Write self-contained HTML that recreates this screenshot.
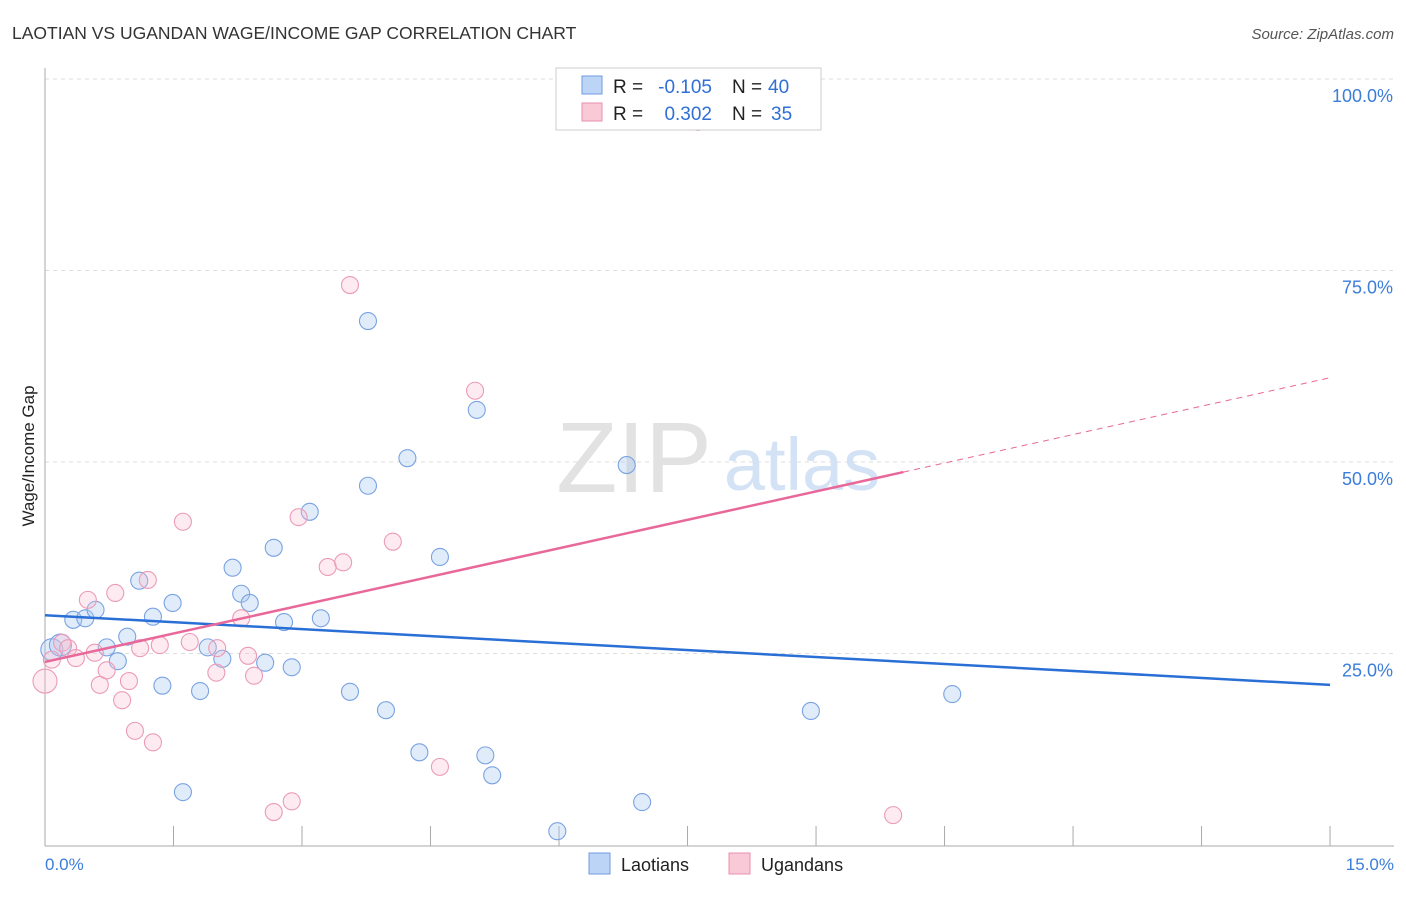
<!DOCTYPE html>
<html><head><meta charset="utf-8"><style>
body{margin:0;background:#fff;font-family:"Liberation Sans",sans-serif}
svg text{font-family:"Liberation Sans",sans-serif}
</style></head><body>
<svg width="1406" height="892">
<text x="12" y="39" font-size="17.5" fill="#333">LAOTIAN VS UGANDAN WAGE/INCOME GAP CORRELATION CHART</text>
<text x="1394" y="39" font-size="15" fill="#555" font-style="italic" text-anchor="end">Source: ZipAtlas.com</text>
<g id="grid"></g>
<g>
<text x="634" y="492" font-size="100" fill="#e2e2e2" font-family="Liberation Serif" text-anchor="middle">ZIP</text>
<text x="802" y="490" font-size="74" fill="#d3e2f5" text-anchor="middle">atlas</text>
</g>
<line x1="45" y1="68" x2="45" y2="846" stroke="#aaa"/>
<line x1="45" y1="846" x2="1394" y2="846" stroke="#aaa"/>
<text transform="translate(34,456) rotate(-90)" font-size="17" fill="#222" text-anchor="middle">Wage/Income Gap</text>
<text x="45" y="870" font-size="17" fill="#3b7dd8">0.0%</text>
<text x="1394" y="870" font-size="17" fill="#3b7dd8" text-anchor="end">15.0%</text>
<g id="points"></g>
<g id="trends"></g>
<g>
<rect x="556" y="68" width="265" height="62" fill="#fff" stroke="#ccc"/>
<rect x="582" y="76" width="20" height="18" fill="#bcd4f5" stroke="#6f9be0"/>
<rect x="582" y="103" width="20" height="18" fill="#f9c9d8" stroke="#e890ad"/>
<text x="613" y="93" font-size="19" fill="#222">R =</text>
<text x="712" y="93" font-size="19" fill="#2f6fd6" text-anchor="end">-0.105</text>
<text x="732" y="93" font-size="19" fill="#222">N =</text>
<text x="768" y="93" font-size="19" fill="#2f6fd6">40</text>
<text x="613" y="120" font-size="19" fill="#222">R =</text>
<text x="712" y="120" font-size="19" fill="#2f6fd6" text-anchor="end">0.302</text>
<text x="732" y="120" font-size="19" fill="#222">N =</text>
<text x="771" y="120" font-size="19" fill="#2f6fd6">35</text>
</g>
<g>
<rect x="589" y="853" width="21" height="21" fill="#bcd4f5" stroke="#6f9be0"/>
<text x="621" y="871" font-size="18" fill="#222">Laotians</text>
<rect x="729" y="853" width="21" height="21" fill="#f9c9d8" stroke="#e890ad"/>
<text x="761" y="871" font-size="18" fill="#222">Ugandans</text>
</g>
</svg>
<script>
const yTicks=[25,50,75,100];
const yTickLabels=["25.0%","50.0%","75.0%","100.0%"];
const xTicks=[0,1.5,3,4.5,6,7.5,9,10.5,12,13.5,15];
const laoX=[0.08,0.18,0.33,0.47,0.59,0.72,0.85,0.96,1.10,1.26,1.37,1.49,1.61,1.81,1.90,2.07,2.19,2.29,2.39,2.57,2.67,2.79,2.88,3.09,3.22,3.56,3.77,3.77,3.98,4.23,4.37,4.61,5.04,5.14,5.22,5.98,6.79,6.97,8.94,10.59];
const laoY=[25.5,26.1,29.4,29.6,30.7,25.8,24.0,27.2,34.5,29.8,20.8,31.6,6.9,20.1,25.8,24.3,36.2,32.8,31.6,23.8,38.8,29.1,23.2,43.5,29.6,20.0,46.9,68.4,17.6,50.5,12.1,37.6,56.8,11.7,9.1,1.8,49.6,5.6,17.5,19.7];
const ugaX=[0,0.08,0.20,0.27,0.36,0.50,0.58,0.64,0.72,0.82,0.90,0.98,1.05,1.11,1.20,1.26,1.34,1.61,1.69,2.00,2.01,2.29,2.37,2.44,2.67,2.88,2.96,3.30,3.48,3.56,4.06,4.61,5.02,7.62,9.90];
const ugaY=[21.4,24.2,26.4,25.7,24.4,32.0,25.1,20.9,22.8,32.9,18.9,21.4,14.9,25.7,34.6,13.4,26.1,42.2,26.5,22.5,25.7,29.6,24.7,22.1,4.3,5.7,42.8,36.3,36.9,73.1,39.6,10.2,59.3,94.4,3.9];
const laoTrend=[30.0,20.9];
const ugaTrend=[23.9,61.0];
const ugaSolidEnd=10.02;
const X=v=>45+v*85.67, Y=v=>845-v*7.66;
const NS="http://www.w3.org/2000/svg";
function mk(t,a,p){const e=document.createElementNS(NS,t);for(const k in a)e.setAttribute(k,a[k]);p.appendChild(e);return e;}
const grid=document.getElementById('grid');
yTicks.forEach((t,i)=>{
 const l=mk('line',{x1:45,x2:1394,y1:Y(t),y2:Y(t),stroke:'#ddd','stroke-dasharray':'4,4'},grid);
 
 
 const tx=mk('text',{x:1393,y:Y(t)+23,'font-size':18,fill:'#3b7dd8','text-anchor':'end'},grid);
 tx.textContent=yTickLabels[i];
 
 
});
xTicks.forEach(t=>{
 const l=mk('line',{x1:X(t),x2:X(t),y1:826,y2:846,stroke:'#aaa'},grid);
 
 
});
const pts=document.getElementById('points');
laoX.forEach((x,i)=>{
 const c=mk('circle',{cx:X(x),cy:Y(laoY[i]),r:i<2?11:8.5,fill:'rgba(170,200,240,0.35)',stroke:'#7aa3e2','stroke-width':1.1},pts);
 
 
});
ugaX.forEach((x,i)=>{
 const c=mk('circle',{cx:X(x),cy:Y(ugaY[i]),r:i<1?12:8.5,fill:'rgba(248,190,208,0.3)',stroke:'#eb9bb7','stroke-width':1.1},pts);
 
 
});
const tr=document.getElementById('trends');
const bl=mk('line',{x1:X(0),y1:Y(laoTrend[0]),x2:X(15),y2:Y(laoTrend[1]),stroke:'#2a6fd6','stroke-width':2.5},tr);


const ue=ugaTrend[0]+(ugaTrend[1]-ugaTrend[0])*ugaSolidEnd/15;
const pl=mk('line',{x1:X(0),y1:Y(ugaTrend[0]),x2:X(ugaSolidEnd),y2:Y(ue),stroke:'#e8689a','stroke-width':2.5},tr);


const pd=mk('line',{x1:X(ugaSolidEnd),y1:Y(ue),x2:X(15),y2:Y(ugaTrend[1]),stroke:'#e8689a','stroke-width':1,'stroke-dasharray':'6,5'},tr);


</script>
</body></html>
